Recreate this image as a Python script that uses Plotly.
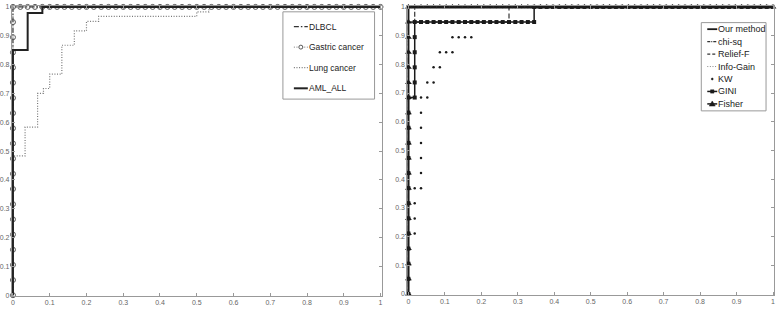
import plotly.graph_objects as go

# ---------------- data ----------------
TICKS = [0, 0.1, 0.2, 0.3, 0.4, 0.5, 0.6, 0.7, 0.8, 0.9, 1]
TICK_LABELS = ["0", "0.1", "0.2", "0.3", "0.4", "0.5", "0.6", "0.7", "0.8", "0.9", "1"]

# Left panel (ROC per dataset)
LEFT_NAMES = ["DLBCL", "Gastric cancer", "Lung cancer", "AML_ALL"]
dlbcl_fpr = [0, 0, 1]
dlbcl_tpr = [0, 1, 1]
# gastric: vertices in counts (false positives, true positives)
GASTRIC_NEG, GASTRIC_POS = 50, 19
gastric_vertices = [(0, 0), (0, 19), (50, 19)]
lung_fpr = [0, 0, 0.033, 0.033, 0.067, 0.067, 0.083, 0.083, 0.1, 0.1, 0.133, 0.133,
            0.167, 0.167, 0.2, 0.2, 0.233, 0.233, 0.5, 0.5, 0.533, 0.533, 1]
lung_tpr = [0, 0.483, 0.483, 0.583, 0.583, 0.7, 0.7, 0.717, 0.717, 0.767, 0.767, 0.867,
            0.867, 0.917, 0.917, 0.95, 0.95, 0.967, 0.967, 0.983, 0.983, 1, 1]
aml_fpr = [0, 0, 0.04, 0.04, 0.08, 0.08, 1]
aml_tpr = [0, 0.851, 0.851, 0.979, 0.979, 1, 1]

# Right panel (ROC per method), vertices in counts (FP, TP)
N_NEG, N_POS = 58, 19
RIGHT_NAMES = ["Our method", "chi-sq", "Relief-F", "Info-Gain", "KW", "GINI", "Fisher"]
our_vertices = [(0, 0), (0, 19), (58, 19)]
chisq_vertices = [(0, 0), (0, 18), (1, 18), (1, 19), (58, 19)]
relief_vertices = [(0, 0), (0, 18), (16, 18), (16, 19), (58, 19)]
infogain_vertices = [(0, 0), (0, 19), (58, 19)]
kw_vertices = [(0, 0), (0, 3), (1, 4), (1, 7), (2, 7), (2, 13), (3, 13), (3, 14), (4, 14),
               (4, 15), (5, 15), (5, 16), (7, 16), (7, 17), (10, 17), (10, 18), (11, 18),
               (12, 19), (58, 19)]
gini_vertices = [(0, 0), (0, 13), (1, 13), (1, 18), (20, 18), (20, 19), (58, 19)]
fisher_vertices = [(0, 0), (0, 19), (58, 19)]


def roc_points(vertices, n_neg, n_pos):
    """Expand ROC corner vertices into every threshold point (unit steps)."""
    pts = [vertices[0]]
    for (a, b), (c, d) in zip(vertices, vertices[1:]):
        if a == c:
            s = 1 if d > b else -1
            pts += [(a, t) for t in range(b + s, d + s, s)]
        elif b == d:
            s = 1 if c > a else -1
            pts += [(t, b) for t in range(a + s, c + s, s)]
        else:
            pts.append((c, d))
    return [p[0] / n_neg for p in pts], [p[1] / n_pos for p in pts]


# ---------------- layout helpers ----------------
W, H = 778, 309
PAD = 0.003


def dom(x0, x1, ytop, ybot):
    wx = x1 - x0
    wy = ybot - ytop
    return ([(x0 - PAD * wx) / W, (x1 + PAD * wx) / W],
            [1 - (ybot + PAD * wy) / H, 1 - (ytop - PAD * wy) / H])


def PX(x):
    return x / W


def PY(y):
    return 1 - y / H


LX, LY = dom(11, 380, 4, 298)
RX, RY = dom(408, 774, 4, 296.7)

fig = go.Figure()

BLACK = "#1a1a1a"
GREY = "#7a7a7a"
DOT = "1px,1.6px"
DASHDOT = "5px,2px,1.5px,2px"
DASH = "5px,3px"

# ---------------- left traces ----------------
fig.add_trace(go.Scatter(x=dlbcl_fpr, y=dlbcl_tpr, mode="lines", name=LEFT_NAMES[0],
                         line=dict(color="#333", width=1.2, dash=DASHDOT),
                         xaxis="x", yaxis="y"))
gx, gy = roc_points(gastric_vertices, GASTRIC_NEG, GASTRIC_POS)
fig.add_trace(go.Scatter(x=gx, y=gy, mode="lines+markers", name=LEFT_NAMES[1],
                         line=dict(color=GREY, width=1, dash=DOT),
                         marker=dict(symbol="circle-open", size=5, color="#555",
                                     line=dict(width=1, color="#555")),
                         cliponaxis=False, xaxis="x", yaxis="y"))
fig.add_trace(go.Scatter(x=lung_fpr, y=lung_tpr, mode="lines", name=LEFT_NAMES[2],
                         line=dict(color="#777", width=1.2, dash=DOT),
                         xaxis="x", yaxis="y"))
fig.add_trace(go.Scatter(x=aml_fpr, y=aml_tpr, mode="lines", name=LEFT_NAMES[3],
                         line=dict(color="#222", width=2),
                         xaxis="x", yaxis="y"))

# ---------------- right traces ----------------
def add_right(vertices, name, line, mode="lines", marker=None):
    xs, ys = roc_points(vertices, N_NEG, N_POS)
    kw = dict(x=xs, y=ys, mode=mode, name=name, xaxis="x2", yaxis="y2", cliponaxis=False)
    if line is not None:
        kw["line"] = line
    if marker is not None:
        kw["marker"] = marker
    fig.add_trace(go.Scatter(**kw))


add_right(our_vertices, RIGHT_NAMES[0], dict(color=BLACK, width=1.8))
add_right(chisq_vertices, RIGHT_NAMES[1], dict(color="#333", width=1.2, dash=DASHDOT))
add_right(relief_vertices, RIGHT_NAMES[2], dict(color="#333", width=1.2, dash=DASH))
add_right(infogain_vertices, RIGHT_NAMES[3], dict(color="#888", width=1, dash=DOT))
add_right(kw_vertices, RIGHT_NAMES[4], None, mode="markers",
          marker=dict(symbol="circle", size=2.5, color=BLACK))
add_right(gini_vertices, RIGHT_NAMES[5], dict(color=BLACK, width=1.5), mode="lines+markers",
          marker=dict(symbol="square", size=4, color=BLACK))
add_right(fisher_vertices, RIGHT_NAMES[6], dict(color=BLACK, width=1.5), mode="lines+markers",
          marker=dict(symbol="triangle-up", size=6, color=BLACK))

# ---------------- axes ----------------
def axis(domain, anchor):
    return dict(domain=domain, anchor=anchor, range=[-PAD, 1 + PAD], tickvals=TICKS,
                ticktext=TICK_LABELS, ticks="inside", ticklen=3, tickcolor="#999",
                tickwidth=1, showline=True, linecolor="#999", linewidth=1, mirror="ticks",
                showgrid=False, zeroline=False, fixedrange=True,
                tickfont=dict(size=7, color="#666", family="Liberation Sans, Arial"))


shapes = []
annotations = []


def legend_box(x0, x1, y0, y1):
    shapes.append(dict(type="rect", xref="paper", yref="paper", x0=PX(x0), x1=PX(x1),
                       y0=PY(y1), y1=PY(y0), line=dict(color="#999", width=1),
                       fillcolor="white", layer="above"))


def legend_line(x0, x1, y, color, width, dash="solid"):
    shapes.append(dict(type="line", xref="paper", yref="paper", x0=PX(x0), x1=PX(x1),
                       y0=PY(y), y1=PY(y), line=dict(color=color, width=width, dash=dash),
                       layer="above"))


def legend_text(x, y, text, size=9):
    annotations.append(dict(x=PX(x), y=PY(y), xref="paper", yref="paper", text=text,
                            showarrow=False, xanchor="left", yanchor="middle", borderpad=0,
                            font=dict(size=size, color="#222",
                                      family="Liberation Sans, Arial")))


# Left legend
legend_box(282, 374, 9, 98)
left_styles = [("#333", 1.2, DASHDOT), (GREY, 1, DOT), ("#777", 1.2, DOT), ("#222", 2, "solid")]
for i, (name, st) in enumerate(zip(LEFT_NAMES, left_styles)):
    y = 24 + 21 * i
    legend_line(293, 307, y, *st)
    legend_text(307, y, name, size=8.5)
    if i == 1:
        shapes.append(dict(type="circle", xref="paper", yref="paper",
                           x0=PX(298), x1=PX(302), y0=PY(y + 2), y1=PY(y - 2),
                           line=dict(color="#555", width=1), fillcolor="white", layer="above"))

# Right legend
legend_box(702, 767, 20, 110)
right_styles = [(BLACK, 1.8, "solid"), ("#333", 1.2, "3px,1px,1px,1px"), ("#333", 1.2, "3px,2px"),
                ("#888", 1, DOT), None, (BLACK, 1.5, "solid"), (BLACK, 1.5, "solid")]
for i, (name, st) in enumerate(zip(RIGHT_NAMES, right_styles)):
    y = 26.7 + 12.7 * i
    if st is not None:
        legend_line(708, 718, y, *st)
    legend_text(717.5, y, name, size=9)
    if name == "KW":
        shapes.append(dict(type="circle", xref="paper", yref="paper",
                           x0=PX(712), x1=PX(714), y0=PY(y + 1), y1=PY(y - 1),
                           line=dict(color=BLACK, width=0.5), fillcolor=BLACK, layer="above"))
    if name == "GINI":
        shapes.append(dict(type="rect", xref="paper", yref="paper",
                           x0=PX(711.3), x1=PX(714.7), y0=PY(y + 1.7), y1=PY(y - 1.7),
                           line=dict(color=BLACK, width=0.5), fillcolor=BLACK, layer="above"))
    if name == "Fisher":
        path = "M {} {} L {} {} L {} {} Z".format(PX(710), PY(y + 2.2), PX(716), PY(y + 2.2),
                                                   PX(713), PY(y - 3))
        shapes.append(dict(type="path", xref="paper", yref="paper", path=path,
                           line=dict(color=BLACK, width=0.5), fillcolor=BLACK, layer="above"))

fig.update_layout(
    width=W, height=H,
    margin=dict(l=0, r=0, t=0, b=0),
    paper_bgcolor="white", plot_bgcolor="rgba(0,0,0,0)",
    showlegend=False,
    xaxis=axis(LX, "y"), yaxis=axis(LY, "x"),
    xaxis2=axis(RX, "y2"), yaxis2=axis(RY, "x2"),
    shapes=shapes, annotations=annotations,
)

fig.write_html("out.html", config={"displayModeBar": False, "staticPlot": True},
               post_script="document.body.style.margin='0';document.body.style.overflow='hidden';")
